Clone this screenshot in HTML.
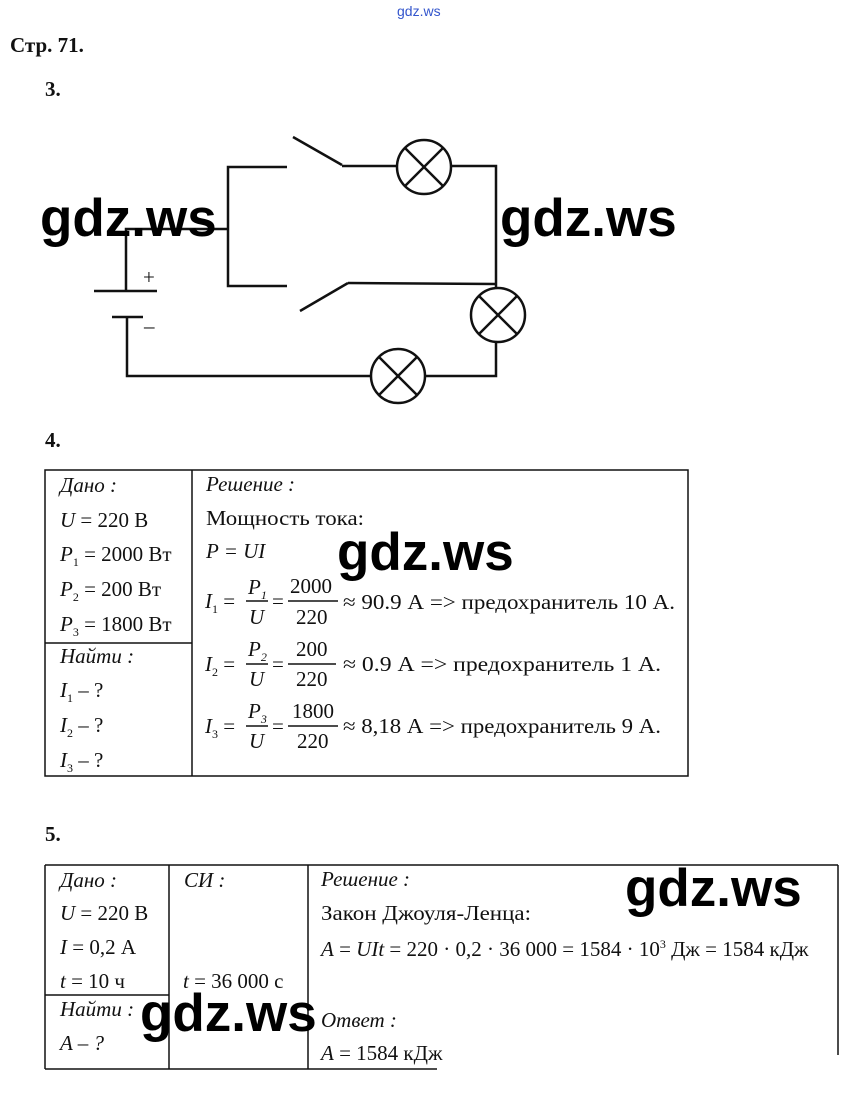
<!DOCTYPE html>
<html><head><meta charset="utf-8"><style>
html,body{margin:0;padding:0;background:#fff}
svg{display:block}
.t{font-family:"Liberation Serif",serif;font-size:21px;fill:#111}
.i{font-style:italic}
.b{font-weight:bold}
.w{font-family:"Liberation Sans",sans-serif;font-weight:bold;font-size:53px;fill:#000}
</style></head><body>
<svg width="847" height="1116" viewBox="0 0 847 1116" xmlns="http://www.w3.org/2000/svg">
<text x="397" y="16" font-family="Liberation Sans,sans-serif" font-size="14" fill="#3355cc">gdz.ws</text>
<text class="t b" x="10" y="52" font-size="19">Стр. 71.</text>
<text class="t b" x="45" y="96">3.</text>
<text class="t b" x="45" y="447">4.</text>
<text class="t b" x="45" y="841">5.</text>

<g stroke="#111" stroke-width="2.5" fill="none">
<polyline points="287,167 228,167 228,286 287,286"/>
<line x1="293" y1="137" x2="342" y2="165"/>
<line x1="342" y1="166" x2="397" y2="166"/>
<circle cx="424" cy="167" r="27"/>
<line x1="405" y1="148" x2="443" y2="186"/><line x1="443" y1="148" x2="405" y2="186"/>
<polyline points="451,166 496,166 496,288"/>
<line x1="300" y1="311" x2="348" y2="283"/>
<line x1="348" y1="283" x2="496" y2="284"/>
<polyline points="228,229 126,229 126,291"/>
<line x1="94" y1="291" x2="157" y2="291"/>
<line x1="112" y1="317" x2="143" y2="317"/>
<polyline points="127,317 127,376 371,376"/>
<circle cx="398" cy="376" r="27"/>
<line x1="379" y1="357" x2="417" y2="395"/><line x1="417" y1="357" x2="379" y2="395"/>
<polyline points="425,376 496,376 496,342"/>
<circle cx="498" cy="315" r="27"/>
<line x1="479" y1="296" x2="517" y2="334"/><line x1="517" y1="296" x2="479" y2="334"/>
</g>
<text class="t" x="143" y="284" font-size="24">+</text>
<text class="t" x="144" y="333" font-size="24">–</text>

<g stroke="#111" stroke-width="1.5" fill="none">
<rect x="45" y="470" width="643" height="306"/>
<line x1="192" y1="470" x2="192" y2="776"/>
<line x1="45" y1="643" x2="192" y2="643"/>
<line x1="246" y1="601" x2="268" y2="601"/>
<line x1="288" y1="601" x2="338" y2="601"/>
<line x1="246" y1="664" x2="268" y2="664"/>
<line x1="288" y1="664" x2="336" y2="664"/>
<line x1="246" y1="726" x2="268" y2="726"/>
<line x1="288" y1="726" x2="338" y2="726"/>
</g>
<text class="t i" x="60" y="492">Дано :</text>
<text class="t" x="60" y="527"><tspan class="i">U</tspan> = 220 В</text>
<text class="t" x="60" y="561"><tspan class="i">P</tspan><tspan font-size="12" dy="5">1</tspan><tspan dy="-5"> = 2000 Вт</tspan></text>
<text class="t" x="60" y="596"><tspan class="i">P</tspan><tspan font-size="12" dy="5">2</tspan><tspan dy="-5"> = 200 Вт</tspan></text>
<text class="t" x="60" y="631"><tspan class="i">P</tspan><tspan font-size="12" dy="5">3</tspan><tspan dy="-5"> = 1800 Вт</tspan></text>
<text class="t i" x="60" y="663">Найти :</text>
<text class="t" x="60" y="697"><tspan class="i">I</tspan><tspan font-size="12" dy="5">1</tspan><tspan dy="-5"> – ?</tspan></text>
<text class="t" x="60" y="732"><tspan class="i">I</tspan><tspan font-size="12" dy="5">2</tspan><tspan dy="-5"> – ?</tspan></text>
<text class="t" x="60" y="767"><tspan class="i">I</tspan><tspan font-size="12" dy="5">3</tspan><tspan dy="-5"> – ?</tspan></text>
<text class="t i" x="206" y="491">Решение :</text>
<text class="t" x="206" y="525" textLength="158" lengthAdjust="spacingAndGlyphs">Мощность тока:</text>
<text class="t i" x="206" y="558">P = UI</text>

<text class="t" x="205" y="608"><tspan class="i">I</tspan><tspan font-size="12" dy="5">1</tspan><tspan dy="-5"> =</tspan></text>
<text class="t i" x="248" y="594">P<tspan font-size="12" dy="5">1</tspan></text>
<text class="t i" x="249" y="624">U</text>
<text class="t" x="272" y="608">=</text>
<text class="t" x="290" y="593">2000</text>
<text class="t" x="296" y="624">220</text>
<text class="t" x="343" y="609" textLength="332" lengthAdjust="spacingAndGlyphs">≈ 90.9 А =&gt; предохранитель 10 А.</text>

<text class="t" x="205" y="671"><tspan class="i">I</tspan><tspan font-size="12" dy="5">2</tspan><tspan dy="-5"> =</tspan></text>
<text class="t i" x="248" y="656">P<tspan font-size="12" dy="5">2</tspan></text>
<text class="t i" x="249" y="686">U</text>
<text class="t" x="272" y="671">=</text>
<text class="t" x="296" y="656">200</text>
<text class="t" x="296" y="686">220</text>
<text class="t" x="343" y="671" textLength="318" lengthAdjust="spacingAndGlyphs">≈ 0.9 А =&gt; предохранитель 1 А.</text>

<text class="t" x="205" y="733"><tspan class="i">I</tspan><tspan font-size="12" dy="5">3</tspan><tspan dy="-5"> =</tspan></text>
<text class="t i" x="248" y="718">P<tspan font-size="12" dy="5">3</tspan></text>
<text class="t i" x="249" y="748">U</text>
<text class="t" x="272" y="733">=</text>
<text class="t" x="292" y="718">1800</text>
<text class="t" x="297" y="748">220</text>
<text class="t" x="343" y="733" textLength="318" lengthAdjust="spacingAndGlyphs">≈ 8,18 А =&gt; предохранитель 9 А.</text>

<g stroke="#111" stroke-width="1.5" fill="none">
<line x1="45" y1="865" x2="838" y2="865"/>
<line x1="838" y1="865" x2="838" y2="1055"/>
<line x1="45" y1="865" x2="45" y2="1069"/>
<line x1="45" y1="1069" x2="437" y2="1069"/>
<line x1="169" y1="865" x2="169" y2="1069"/>
<line x1="308" y1="865" x2="308" y2="1069"/>
<line x1="45" y1="995" x2="169" y2="995"/>
</g>
<text class="t i" x="60" y="887">Дано :</text>
<text class="t" x="60" y="920"><tspan class="i">U</tspan> = 220 В</text>
<text class="t" x="60" y="954"><tspan class="i">I</tspan> = 0,2 А</text>
<text class="t" x="60" y="988"><tspan class="i">t</tspan> = 10 ч</text>
<text class="t i" x="60" y="1016">Найти :</text>
<text class="t i" x="60" y="1050">A – ?</text>
<text class="t i" x="184" y="887">СИ :</text>
<text class="t" x="183" y="988"><tspan class="i">t</tspan> = 36 000 с</text>
<text class="t i" x="321" y="886">Решение :</text>
<text class="t" x="321" y="920" textLength="210" lengthAdjust="spacingAndGlyphs">Закон Джоуля-Ленца:</text>
<text class="t" x="321" y="956"><tspan class="i">A</tspan> = <tspan class="i">UIt</tspan> = 220 · 0,2 · 36 000 = 1584 · 10<tspan font-size="12" dy="-8">3</tspan><tspan dy="8"> Дж = 1584 кДж</tspan></text>
<text class="t i" x="321" y="1027">Ответ :</text>
<text class="t" x="321" y="1060"><tspan class="i">A</tspan> = 1584 кДж</text>

<text class="w" x="40" y="236">gdz.ws</text>
<text class="w" x="500" y="236">gdz.ws</text>
<text class="w" x="337" y="570">gdz.ws</text>
<text class="w" x="625" y="906">gdz.ws</text>
<text class="w" x="140" y="1031">gdz.ws</text>
</svg>
</body></html>
